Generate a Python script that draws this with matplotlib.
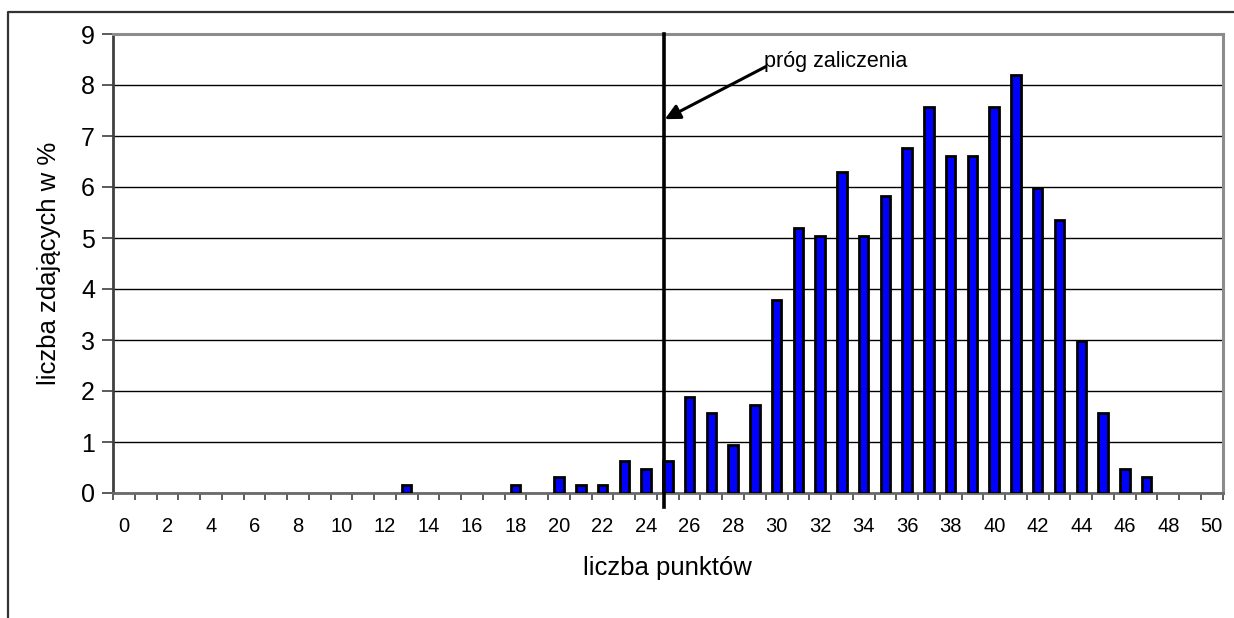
import numpy as np
import matplotlib
matplotlib.use("Agg")
import matplotlib.pyplot as plt
from matplotlib.lines import Line2D

plt.rcParams['font.family'] = ['Liberation Sans', 'DejaVu Sans']

# ---- data ----
scores = list(range(0, 51))
percent = [0, 0, 0, 0, 0, 0, 0, 0, 0, 0, 0, 0, 0,
           0.16, 0, 0, 0, 0, 0.16, 0, 0.31, 0.16, 0.16, 0.63, 0.47,
           0.63, 1.89, 1.57, 0.94, 1.73, 3.78, 5.20, 5.04, 6.30, 5.04,
           5.83, 6.77, 7.56, 6.61, 6.61, 7.56, 8.19, 5.98, 5.35, 2.99,
           1.57, 0.47, 0.31, 0, 0, 0]
x_tick_labels = [str(v) for v in range(0, 51, 2)]
y_ticks = list(range(0, 10))
pass_threshold = 24.83
annotation_text = "próg zaliczenia"
x_label = "liczba punktów"
y_label = "liczba zdających w %"

W, H = 1234, 618
fig = plt.figure(figsize=(W / 100, H / 100), dpi=100)
ax = fig.add_axes([113 / W, 1 - 493 / H, (1222.7 - 113) / W, (493 - 34) / H])

lw = [2.0 if v > 0 else 0 for v in percent]
ax.bar(scores, percent, width=0.435, color='#0000FF', edgecolor='black',
       linewidth=lw, zorder=3)

ax.set_xlim(-0.5, 50.5)
ax.set_ylim(0, 9)

# y axis
ax.set_yticks(y_ticks)
ax.tick_params(axis='y', direction='out', length=8, width=1.2, color='#404040',
               labelsize=18, pad=5)
ax.yaxis.grid(True, color='black', linewidth=1.0, zorder=0)
ax.set_axisbelow(True)

# x axis: ticks on boundaries, labels on even categories
ax.set_xticks(np.arange(-0.5, 51, 1.0))
ax.set_xticklabels([])
ax.tick_params(axis='x', which='major', direction='out', length=5, width=1.2,
               color='#404040')
ax.set_xticks(list(range(0, 51, 2)), minor=True)
ax.set_xticklabels(x_tick_labels, minor=True)
ax.tick_params(axis='x', which='minor', length=0, labelsize=14.5, pad=17.5)

for side in ['top', 'right']:
    ax.spines[side].set_color('#8c8c8c')
    ax.spines[side].set_linewidth(2.2)
ax.spines['bottom'].set_color('#6a6a6a')
ax.spines['bottom'].set_linewidth(2.0)
ax.spines['left'].set_color('#404040')
ax.spines['left'].set_linewidth(2.0)

ax.set_xlabel(x_label, fontsize=18.5, labelpad=14)
ax.set_ylabel(y_label, fontsize=18.5, labelpad=14)

# threshold line
ax.plot([pass_threshold, pass_threshold], [9, -0.27], color='black',
        linewidth=2.6, clip_on=False, zorder=5)

# annotation
ax.annotate('', xy=(pass_threshold + 0.03, 7.33), xytext=(29.5, 8.36),
            arrowprops=dict(arrowstyle='-|>,head_length=0.9,head_width=0.45',
                            color='black', lw=2.2, shrinkA=0, shrinkB=0),
            zorder=6)
ax.text(29.41, 8.36, annotation_text, fontsize=15.5, ha='left', va='baseline',
        zorder=6)

# outer frame (left and top edges visible)
fx = 8 / W
fy = 1 - 11.5 / H
fig.add_artist(Line2D([fx, fx, 1.01], [-0.01, fy, fy], transform=fig.transFigure,
                      color='#333333', linewidth=1.6))

fig.savefig('out.png', dpi=100, facecolor='white')
